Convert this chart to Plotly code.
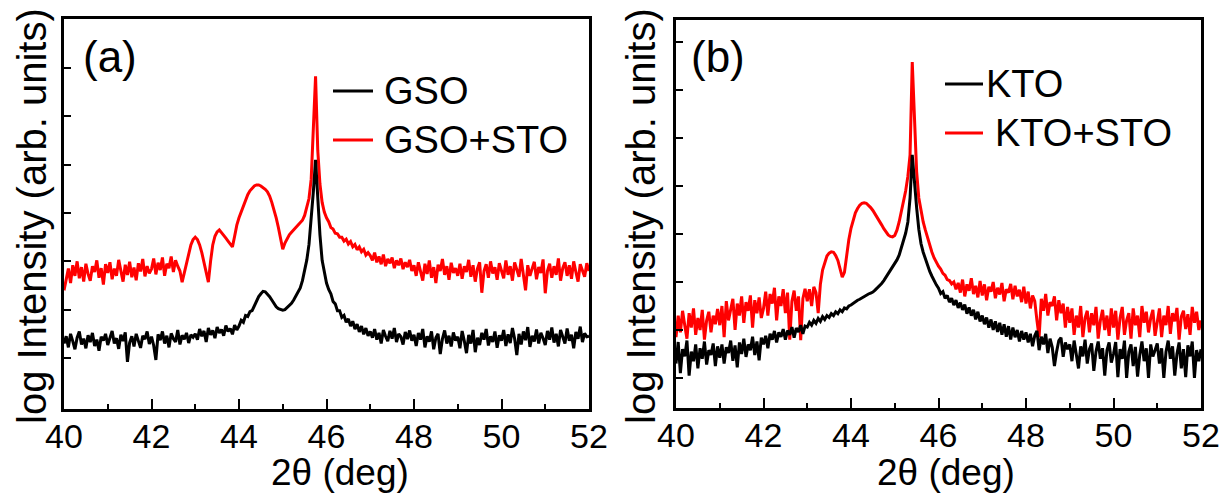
import numpy as np
import plotly.graph_objects as go

# 2-theta sampling grid (deg)
two_theta = np.round(np.arange(40, 52.0001, 0.05), 2)

# Panel (a): log intensity (arb. units)
gso = [
    0.30,0.45,0.22,0.50,0.35,0.18,0.42,0.55,0.28,0.40,0.20,0.47,0.33,0.52,0.25,0.38,0.15,0.44,0.36,0.50,
    0.27,0.43,0.56,0.30,0.41,0.19,0.48,0.35,0.53,-0.08,0.32,0.45,0.24,0.50,0.36,0.21,0.46,0.39,0.55,0.29,
    0.44,0.26,-0.04,0.49,0.37,0.55,0.30,0.46,0.22,0.51,0.40,0.33,0.58,0.28,0.47,0.39,0.52,0.31,0.48,0.43,
    0.50,0.38,0.60,0.45,0.56,0.33,0.62,0.48,0.57,0.41,0.64,0.52,0.59,0.46,0.67,0.55,0.61,0.49,0.68,0.58,
    0.66,0.78,0.74,0.88,0.86,0.96,0.98,1.08,1.18,1.27,1.33,1.38,1.37,1.33,1.27,1.20,1.13,1.06,1.02,1.00,
    0.99,1.00,1.04,1.08,1.13,1.20,1.28,1.36,1.45,1.60,1.80,2.03,2.35,2.85,3.45,4.10,3.25,2.55,2.02,1.75,
    1.55,1.42,1.33,1.17,1.12,0.98,0.98,0.84,0.88,0.74,0.81,0.66,0.76,0.60,0.70,0.54,0.66,0.49,0.62,0.46,
    0.55,0.42,0.60,0.38,0.52,0.30,0.58,0.45,0.35,0.56,0.40,0.62,0.33,0.50,0.44,0.28,0.54,0.39,0.57,0.36,
    0.48,0.25,0.52,0.38,0.60,0.22,0.45,0.34,0.55,0.18,0.42,0.50,0.08,0.40,0.57,0.30,0.46,0.24,0.53,0.36,
    0.44,0.20,0.56,0.35,0.10,0.48,0.30,0.58,0.12,0.42,0.27,0.52,0.38,0.60,0.26,0.45,0.33,0.55,0.21,0.47,
    0.36,0.58,0.25,0.49,0.31,0.62,0.40,0.06,0.50,0.28,0.55,0.37,0.64,0.23,0.46,0.34,0.59,0.30,0.52,0.41,
    0.27,0.56,0.38,0.63,0.32,0.50,0.24,0.58,0.42,0.30,0.61,0.36,0.48,0.20,0.54,0.40,0.65,0.33,0.51,0.44,
    0.45,
]
gso_sto = [
    1.40,1.62,1.85,1.55,1.92,1.70,2.00,1.65,1.88,1.58,1.95,1.74,1.60,1.90,1.78,2.02,1.66,1.86,1.52,1.94,
    1.76,1.98,1.63,1.85,1.70,2.03,1.80,1.58,1.93,1.72,1.99,1.67,1.87,1.61,1.96,1.79,2.05,1.69,1.90,1.75,
    1.84,2.06,1.73,1.97,1.82,2.08,1.70,1.95,1.86,2.10,1.78,2.02,1.90,1.80,1.57,1.75,1.95,2.15,2.34,2.45,
    2.50,2.45,2.34,2.18,1.99,1.80,1.57,2.00,2.34,2.52,2.61,2.65,2.60,2.54,2.48,2.42,2.35,2.30,2.52,2.75,
    2.90,3.02,3.14,3.27,3.38,3.46,3.52,3.56,3.58,3.58,3.56,3.53,3.49,3.44,3.35,3.22,3.08,2.90,2.70,2.48,
    2.25,2.38,2.48,2.55,2.60,2.65,2.69,2.73,2.78,2.85,2.95,3.10,3.30,3.70,4.75,5.83,4.30,3.60,3.22,3.02,
    2.90,2.82,2.70,2.67,2.58,2.57,2.50,2.50,2.42,2.46,2.36,2.41,2.30,2.35,2.24,2.30,2.20,2.25,2.13,2.18,
    2.12,2.02,2.18,1.98,2.10,1.94,2.14,1.90,2.05,1.96,2.08,1.86,2.02,1.92,2.06,1.84,1.98,1.88,2.03,1.80,
    1.92,1.70,1.98,1.78,1.60,1.95,1.74,2.02,1.66,1.88,1.55,1.93,1.80,2.05,1.72,1.90,1.62,1.97,1.76,1.86,
    1.70,1.95,1.64,1.90,1.78,2.03,1.68,1.92,1.58,1.85,1.98,1.35,1.80,1.94,1.66,2.00,1.75,1.88,1.62,1.96,
    1.78,1.65,2.02,1.72,1.90,1.60,1.98,1.82,1.68,2.05,1.74,1.40,1.92,1.70,1.85,1.99,1.63,1.88,1.76,2.04,
    1.34,1.80,1.95,1.66,1.90,1.72,2.06,1.60,1.86,1.98,1.70,1.92,1.64,2.00,1.78,1.58,1.94,1.82,1.68,1.96,
    1.80,
]

# Panel (b)
kto = [
    0.30,0.75,0.10,0.60,0.45,0.78,0.05,0.55,0.35,0.70,0.20,0.62,0.40,0.76,0.28,0.58,0.48,0.72,0.25,0.66,
    0.42,0.70,0.30,0.64,0.52,0.78,0.36,0.68,0.22,0.74,0.50,0.82,0.44,0.70,0.58,0.86,0.48,0.76,0.37,0.84,
    0.70,0.88,0.62,0.92,0.80,0.98,0.74,0.95,0.86,1.02,0.80,0.99,0.90,1.06,0.84,1.04,0.96,1.10,0.92,1.08,
    1.06,1.16,1.10,1.20,1.14,1.24,1.18,1.28,1.22,1.30,1.26,1.34,1.30,1.38,1.34,1.42,1.38,1.46,1.44,1.50,
    1.52,1.56,1.58,1.62,1.64,1.67,1.70,1.72,1.75,1.77,1.79,1.83,1.87,1.92,1.97,2.03,2.10,2.17,2.24,2.32,
    2.40,2.46,2.56,2.70,2.85,3.02,3.25,3.75,4.65,4.05,3.55,3.10,2.80,2.62,2.48,2.34,2.22,2.12,2.02,1.94,
    1.87,1.76,1.80,1.66,1.72,1.58,1.66,1.52,1.62,1.46,1.57,1.42,1.53,1.34,1.47,1.30,1.42,1.22,1.38,1.18,
    1.30,1.12,1.26,1.05,1.22,1.00,1.18,0.96,1.15,0.90,1.12,0.86,1.08,0.80,1.05,0.85,1.00,0.76,0.98,0.80,
    0.95,0.74,0.92,0.66,0.88,0.98,0.58,0.86,0.70,0.92,0.52,0.82,0.64,0.25,0.55,0.78,0.84,0.44,0.74,0.60,
    0.70,0.35,0.78,0.52,0.20,0.66,0.45,0.80,0.30,0.60,0.72,0.15,0.55,0.76,0.40,0.62,0.05,0.58,0.74,0.32,
    0.50,0.75,0.02,0.60,0.40,0.78,0.00,0.55,0.70,0.25,0.65,0.03,0.48,0.76,0.35,0.62,0.00,0.70,0.45,0.58,
    0.72,0.30,0.62,0.00,0.55,0.78,0.40,0.66,0.05,0.50,0.74,0.20,0.60,0.02,0.68,0.45,0.76,0.00,0.58,0.35,
    0.60,
]
kto_sto = [
    0.85,1.30,0.95,1.40,1.10,0.82,1.35,1.05,1.45,0.90,1.25,1.00,1.42,0.80,1.20,1.38,0.95,1.30,1.12,1.44,
    1.10,1.50,0.85,1.60,1.20,1.45,1.65,1.00,1.55,1.30,1.70,1.15,1.58,1.40,1.72,1.05,1.62,1.35,1.68,1.25,
    1.45,1.80,1.30,1.75,1.55,1.88,1.20,1.70,1.50,1.85,1.35,1.78,0.80,1.60,1.82,1.40,1.70,0.79,1.65,1.86,
    1.60,1.85,1.50,1.90,1.78,1.35,1.95,2.25,2.42,2.54,2.60,2.63,2.62,2.55,2.45,2.28,2.10,2.20,2.55,2.88,
    3.12,3.30,3.44,3.53,3.60,3.64,3.65,3.64,3.60,3.55,3.49,3.42,3.35,3.27,3.19,3.11,3.04,2.98,2.95,2.94,
    2.97,3.08,3.25,3.45,3.68,3.90,4.20,4.65,6.58,5.30,4.30,3.75,3.45,3.25,3.08,2.92,2.76,2.62,2.50,2.40,
    2.33,2.27,2.18,2.14,2.05,2.03,1.96,2.00,1.85,1.98,1.78,2.05,1.70,1.95,1.82,2.08,1.75,1.92,1.68,2.02,
    1.72,1.95,1.62,1.90,1.80,2.00,1.66,1.88,1.74,1.98,1.60,1.85,1.78,1.96,1.64,1.92,1.70,1.84,1.58,1.90,
    1.55,1.80,1.45,1.72,1.60,1.20,0.85,1.65,1.40,1.75,1.30,1.58,1.50,1.70,1.20,1.62,1.35,1.55,1.05,1.48,
    1.15,1.45,0.90,1.30,1.05,1.50,0.85,1.25,1.40,0.95,1.35,1.10,1.48,0.82,1.20,1.42,1.00,1.30,0.88,1.45,
    1.05,1.40,0.80,1.25,1.48,0.90,1.20,1.35,0.82,1.45,1.10,1.30,0.85,1.50,1.15,1.38,0.95,1.25,1.42,0.88,
    1.20,1.45,0.85,1.30,1.10,1.50,0.92,1.35,1.18,1.46,0.80,1.28,1.40,1.02,1.33,0.90,1.48,1.15,1.38,1.00,
    1.20,
]

x_ticks = [40, 42, 44, 46, 48, 50, 52]
y_ticks_a = [0, 1, 2, 3, 4, 5, 6]
y_ticks_b = [0, 1, 2, 3, 4, 5, 6, 7]

W, H = 1229, 495
FONT = "Liberation Sans, Arial, sans-serif"


def px(x):
    return x / W


def py(y):
    return 1 - y / H


fig = go.Figure()
lw = 3
fig.add_trace(go.Scatter(x=two_theta, y=gso_sto, mode="lines", line=dict(color="#ff0000", width=lw),
                         xaxis="x", yaxis="y", showlegend=False))
fig.add_trace(go.Scatter(x=two_theta, y=gso, mode="lines", line=dict(color="#000000", width=lw),
                         xaxis="x", yaxis="y", showlegend=False))
fig.add_trace(go.Scatter(x=two_theta, y=kto_sto, mode="lines", line=dict(color="#ff0000", width=lw),
                         xaxis="x2", yaxis="y2", showlegend=False))
fig.add_trace(go.Scatter(x=two_theta, y=kto, mode="lines", line=dict(color="#000000", width=lw),
                         xaxis="x2", yaxis="y2", showlegend=False))

xaxis_common = dict(
    range=[40, 52], tickvals=x_ticks, ticktext=[str(t) for t in x_ticks],
    ticks="inside", ticklen=10, tickwidth=2.2, tickcolor="black",
    minor=dict(ticks="inside", ticklen=5, tickwidth=2.2, tickcolor="black", dtick=1, tick0=40),
    showline=True, linewidth=2.6, linecolor="black", mirror=True,
    showgrid=False, zeroline=False, automargin=False, ticklabelstandoff=-5,
    tickfont=dict(family=FONT, size=34, color="black"),
)
yaxis_common = dict(
    ticks="inside", ticklen=7, tickwidth=2.2, tickcolor="black",
    showticklabels=False,
    showline=True, linewidth=2.6, linecolor="black", mirror=True,
    showgrid=False, zeroline=False, automargin=False,
)

fig.update_layout(
    template="none",
    width=W, height=H, autosize=False,
    margin=dict(l=0, r=0, t=0, b=0, pad=0),
    paper_bgcolor="white", plot_bgcolor="white",
    xaxis=dict(domain=[px(64), px(589)], anchor="y", **xaxis_common),
    yaxis=dict(domain=[py(409), py(19)], anchor="x", range=[-1.055, 7.014], tickvals=y_ticks_a, **yaxis_common),
    xaxis2=dict(domain=[px(676), px(1201)], anchor="y2", **xaxis_common),
    yaxis2=dict(domain=[py(408), py(20)], anchor="x2", range=[-0.625, 7.458], tickvals=y_ticks_b, **yaxis_common),
)

shapes = []
annotations = []


def legend_line(x0, x1, y, color):
    shapes.append(dict(type="line", xref="paper", yref="paper", x0=px(x0), x1=px(x1), y0=py(y), y1=py(y),
                       line=dict(color=color, width=3)))


def text(t, x, y, size, xanchor="center", angle=0):
    annotations.append(dict(text=t, xref="paper", yref="paper", x=px(x), y=py(y), showarrow=False,
                            xanchor=xanchor, yanchor="middle", textangle=angle,
                            font=dict(family=FONT, size=size, color="black")))


legend_line(333, 373, 91, "black")
legend_line(333, 373, 140, "#ff0000")
text("GSO", 382, 91, 38, "left")
text("GSO+STO", 382, 140, 38, "left")

legend_line(945, 983, 84, "black")
legend_line(945, 983, 133, "#ff0000")
text("KTO", 984, 84, 38, "left")
text("KTO+STO", 993, 133, 38, "left")

text("(a)", 110, 57, 44)
text("(b)", 718, 57, 44)

text("2θ (deg)", 340, 472, 37)
text("2θ (deg)", 946, 472, 37)
text("log Intensity (arb. units)", 32, 216, 40, angle=-90)
text("log Intensity (arb. units)", 641, 216, 40, angle=-90)

fig.update_layout(shapes=shapes, annotations=annotations)
fig.write_html(
    "out.html",
    config={"responsive": False, "displayModeBar": False},
    post_script="document.body.style.margin='0';document.body.style.overflow='hidden';",
)
